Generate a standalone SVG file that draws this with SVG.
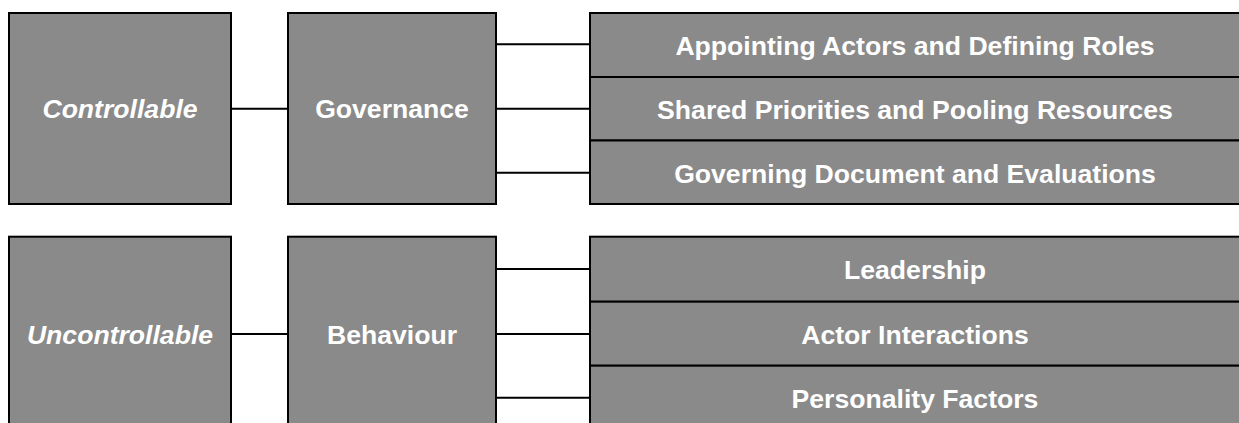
<svg xmlns="http://www.w3.org/2000/svg" width="1239" height="423" viewBox="0 0 1239 423">
  <style>
    .box { fill: #8a8a8a; stroke: #000; stroke-width: 2; }
    .lbl { fill: #fff; font-family: "Liberation Sans", Arial, sans-serif; font-weight: bold; font-size: 26.6px; text-anchor: middle; }
    .it { font-style: italic; }
    .conn line { stroke: #000; stroke-width: 2; }
  </style>
  <rect width="1239" height="423" fill="#fff"/>

  <!-- connectors -->
  <g id="connectors" class="conn">
    <line x1="231" y1="108.7" x2="288" y2="108.7"/>
    <line x1="496" y1="44.3" x2="590" y2="44.3"/>
    <line x1="496" y1="108.7" x2="590" y2="108.7"/>
    <line x1="496" y1="172.7" x2="590" y2="172.7"/>
    <line x1="231" y1="334" x2="288" y2="334"/>
    <line x1="496" y1="269" x2="590" y2="269"/>
    <line x1="496" y1="334" x2="590" y2="334"/>
    <line x1="496" y1="397.7" x2="590" y2="397.7"/>
  </g>

  <!-- upper group -->
  <g id="controllable">
    <rect class="box" x="9" y="13" width="222" height="191"/>
    <text class="lbl it" x="120" y="118">Controllable</text>
  </g>
  <g id="governance">
    <rect class="box" x="288" y="13" width="208" height="191"/>
    <text class="lbl" x="392" y="118">Governance</text>
  </g>
  <g id="appointing">
    <rect class="box" x="590" y="13" width="652" height="64"/>
    <text class="lbl" x="915" y="54.5">Appointing Actors and Defining Roles</text>
  </g>
  <g id="shared">
    <rect class="box" x="590" y="77" width="652" height="63.5"/>
    <text class="lbl" x="915" y="118.5">Shared Priorities and Pooling Resources</text>
  </g>
  <g id="governing">
    <rect class="box" x="590" y="140.5" width="652" height="63.5"/>
    <text class="lbl" x="915" y="182.5">Governing Document and Evaluations</text>
  </g>

  <!-- lower group -->
  <g id="uncontrollable">
    <rect class="box" x="9" y="236.7" width="222" height="195"/>
    <text class="lbl it" x="120" y="343.5">Uncontrollable</text>
  </g>
  <g id="behaviour">
    <rect class="box" x="288" y="236.7" width="208" height="195"/>
    <text class="lbl" x="392" y="343.5">Behaviour</text>
  </g>
  <g id="leadership">
    <rect class="box" x="590" y="236.7" width="652" height="65"/>
    <text class="lbl" x="915" y="279">Leadership</text>
  </g>
  <g id="interactions">
    <rect class="box" x="590" y="301.7" width="652" height="64"/>
    <text class="lbl" x="915" y="343.5">Actor Interactions</text>
  </g>
  <g id="personality">
    <rect class="box" x="590" y="365.7" width="652" height="65"/>
    <text class="lbl" x="915" y="407.5">Personality Factors</text>
  </g>
</svg>
